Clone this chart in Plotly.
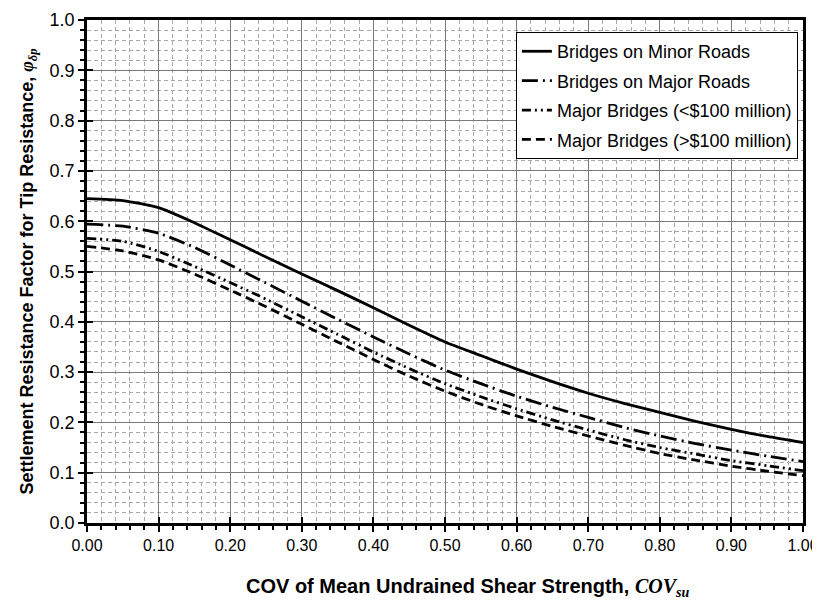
import plotly.graph_objects as go

# COV of mean undrained shear strength
cov_su = [0.00, 0.05, 0.10, 0.15, 0.20, 0.25, 0.30, 0.35, 0.40, 0.45, 0.50,
          0.55, 0.60, 0.65, 0.70, 0.75, 0.80, 0.85, 0.90, 0.95, 1.00]

# Settlement resistance factor for tip resistance
minor_roads = [0.645, 0.641, 0.627, 0.597, 0.563, 0.529, 0.495, 0.462, 0.428, 0.393, 0.360,
               0.333, 0.306, 0.281, 0.258, 0.238, 0.220, 0.202, 0.186, 0.172, 0.160]
major_roads = [0.594, 0.590, 0.576, 0.548, 0.513, 0.477, 0.441, 0.405, 0.370, 0.336, 0.304,
               0.277, 0.252, 0.230, 0.210, 0.190, 0.173, 0.158, 0.145, 0.133, 0.122]
major_lt100 = [0.566, 0.560, 0.540, 0.510, 0.478, 0.445, 0.410, 0.375, 0.340, 0.307, 0.277,
               0.251, 0.227, 0.205, 0.185, 0.166, 0.150, 0.137, 0.124, 0.114, 0.104]
major_gt100 = [0.550, 0.541, 0.523, 0.495, 0.463, 0.430, 0.395, 0.360, 0.325, 0.292, 0.262,
               0.236, 0.213, 0.192, 0.173, 0.155, 0.138, 0.125, 0.113, 0.103, 0.094]

series = [
    ("Bridges on Minor Roads", minor_roads, "solid"),
    ("Bridges on Major Roads", major_roads, "16px,5px,2px,5px"),
    ("Major Bridges (<$100 million)", major_lt100, "9px,4px,2px,4px,2px,4px"),
    ("Major Bridges (>$100 million)", major_gt100, "9px,5px"),
]

x_ticks = [i / 10 for i in range(11)]
x_labels = [f"{v:.2f}" for v in x_ticks]
y_labels = [f"{v:.1f}" for v in x_ticks]

FONT = "Liberation Sans Narrow, Arial Narrow, Liberation Sans, sans-serif"
SERIF = "Liberation Serif, Times New Roman, serif"

fig = go.Figure()
for i, (name, vals, dash) in enumerate(series):
    fig.add_trace(go.Scatter(
        x=cov_su, y=vals, mode="lines", name=name,
        line=dict(color="black", width=2.8, dash=dash, shape="spline", smoothing=0.6),
        legendgroup=f"g{i}",
    ))

# empty trace so the overlay axes (inside half of the crossing ticks) get drawn
fig.add_trace(go.Scatter(x=[], y=[], xaxis="x2", yaxis="y2",
                         showlegend=False, hoverinfo="skip"))

axis_common = dict(
    range=[0, 1], automargin=False,
    showline=True, linecolor="black", linewidth=2.5, mirror=True,
    ticks="outside", ticklen=6, tickwidth=2, tickcolor="black",
    showgrid=True, gridcolor="#7a7a7a", gridwidth=1,
    zeroline=False, ticklabeloverflow="allow",
    minor=dict(dtick=0.02, ticks="outside", ticklen=4, tickwidth=1.5, tickcolor="black",
               showgrid=True, gridcolor="#a8a8a8", griddash="4px,3px", gridwidth=1),
)

fig.update_xaxes(**axis_common, tickvals=x_ticks, ticktext=x_labels,
                 tickfont=dict(family=FONT, size=16, color="black"))
fig.update_yaxes(
    **axis_common,
    tickvals=x_ticks, ticktext=y_labels,
    tickfont=dict(family=FONT, size=18, color="black"),
    title=dict(
        text=f"<b>Settlement Resistance Factor for Tip Resistance, "
             f"<span style='font-family:{SERIF}'><i>φ<sub>δp</sub></i></span></b>",
        font=dict(family=FONT, size=18, color="black"), standoff=12),
)

# x title sits a little right of the plot centre in the original
fig.add_annotation(
    text=f"<b>COV of Mean Undrained Shear Strength, "
         f"<span style='font-family:{SERIF}'><i>COV<sub>su</sub></i></span></b>",
    xref="paper", yref="paper", x=0.532, y=-0.129,
    xanchor="center", yanchor="middle", showarrow=False,
    font=dict(family=FONT, size=20, color="black"),
)

inner = dict(range=[0, 1], tickvals=x_ticks, ticks="inside", ticklen=6, tickwidth=2,
             tickcolor="black", showticklabels=False, showgrid=False, zeroline=False,
             showline=False, automargin=False)

# the page body adds an 8px offset, so the figure is sized to fit inside the window
fig.update_layout(
    width=812, height=593,
    margin=dict(l=79, r=17, t=12, b=78),
    plot_bgcolor="white", paper_bgcolor="white",
    font=dict(family=FONT, color="black"),
    xaxis2=dict(**inner, overlaying="x", side="bottom", anchor="y"),
    yaxis2=dict(**inner, overlaying="y", side="left", anchor="x"),
    legend=dict(
        x=0.599, y=0.976, xanchor="left", yanchor="top",
        bgcolor="white", bordercolor="black", borderwidth=1,
        font=dict(family=FONT, size=18, color="black"),
        tracegroupgap=3,
    ),
)

fig.write_html("out.html")
